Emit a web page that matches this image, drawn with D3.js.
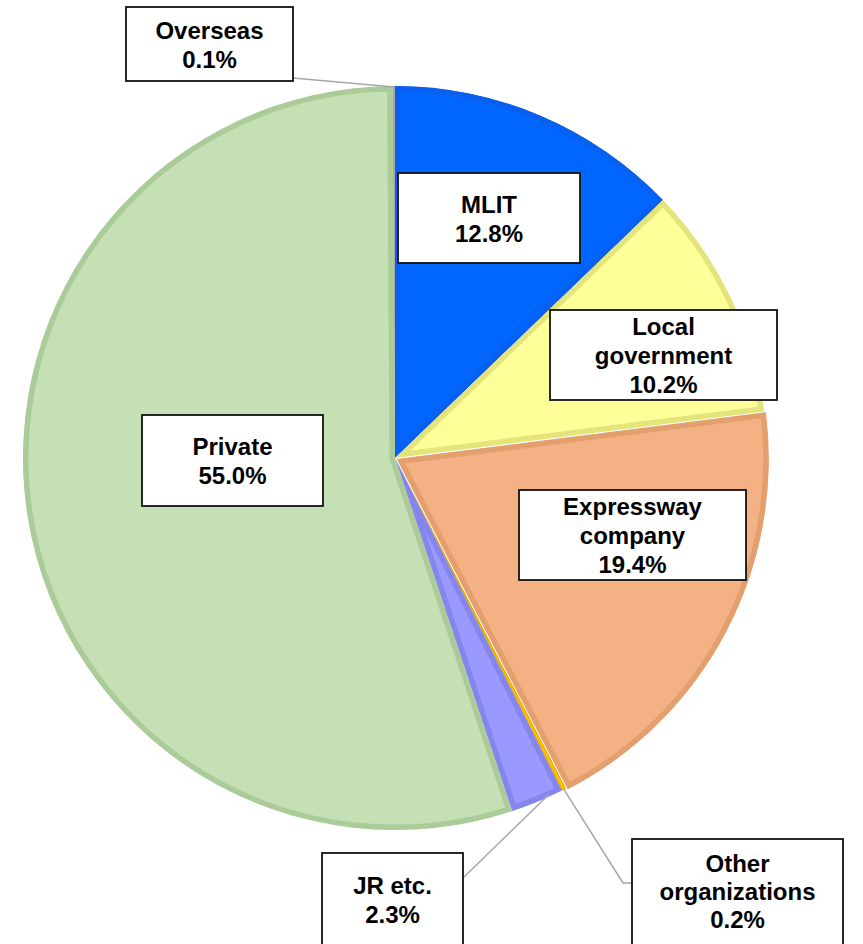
<!DOCTYPE html>
<html>
<head>
<meta charset="utf-8">
<script src="https://cdn.jsdelivr.net/npm/d3@7/dist/d3.min.js"></script>
<style>
  html, body { margin: 0; padding: 0; background: #fff; }
  svg { display: block; }
</style>
</head>
<body>
<svg id="chart" width="863" height="944"></svg>
<script>
// ---- data ----
const categories = ["MLIT", "Local government", "Expressway company", "Other organizations", "JR etc.", "Private", "Overseas"];
const shares = [12.8, 10.2, 19.4, 0.2, 2.3, 55.0, 0.1];
const labelLines = [
  ["MLIT", "12.8%"],
  ["Local", "government", "10.2%"],
  ["Expressway", "company", "19.4%"],
  ["Other", "organizations", "0.2%"],
  ["JR etc.", "2.3%"],
  ["Private", "55.0%"],
  ["Overseas", "0.1%"]
];
const fillColors = ["#0066FF", "#FFFF99", "#F4B183", "#FFC000", "#9999FF", "#C5E0B4", "#BFBFBF"];
const borderColors = ["#0A60EE", "#E4E47C", "#E39F6E", "#E8AA00", "#8585EE", "#ABCB98", "#A5A5A5"];
const explode = [0, 0, 2, 0, 0, 0, 0];

// label boxes (x, y, w, h) and text line centres
const boxes = [
  [398, 173, 182, 90],
  [550, 310, 227, 90],
  [519, 490, 227, 90],
  [632, 839, 211, 110],
  [322, 853, 141, 100],
  [142, 415, 181, 91],
  [126, 7, 167, 74]
];
const lineCenters = [
  [204.5, 233.5],
  [326, 355, 384],
  [506, 535, 564],
  [863, 891, 919],
  [885, 914],
  [446, 475],
  [30, 59]
];

const svg = d3.select("#chart");
const cx = 395, cy = 458, R = 372;

const pie = d3.pie().sort(null).value(d => d)(shares);
const arc = d3.arc().innerRadius(0).outerRadius(R);

const defs = svg.append("defs");
const g = svg.append("g").attr("transform", `translate(${cx},${cy})`);

pie.forEach((p, i) => {
  const mid = (p.startAngle + p.endAngle) / 2;
  const dx = Math.sin(mid) * explode[i], dy = -Math.cos(mid) * explode[i];
  const d = arc(p);
  defs.append("clipPath").attr("id", "clip" + i)
    .append("path").attr("d", d);
  const sg = g.append("g").attr("transform", `translate(${dx},${dy})`);
  sg.append("path")
    .attr("d", d)
    .attr("fill", fillColors[i])
    .attr("stroke", borderColors[i])
    .attr("stroke-width", p.value < 1 ? 2 : 11)
    .attr("stroke-linejoin", "round")
    .attr("clip-path", `url(#clip${i})`);
});

// leader lines
const leaderColor = "#A6A6A6";
function pt(i, frac, rad) {
  const p = pie[i];
  const a = p.startAngle + (p.endAngle - p.startAngle) * frac;
  return [cx + Math.sin(a) * rad, cy - Math.cos(a) * rad];
}
const leaders = [
  [[293, 78], pt(6, 0.5, R - 1)],
  [[463, 878], pt(4, 0.25, R - 2)],
  [[632, 883], [623, 883], pt(3, 0.5, R)]
];
leaders.forEach(l => {
  svg.append("path")
    .attr("d", d3.line()(l))
    .attr("fill", "none")
    .attr("stroke", leaderColor)
    .attr("stroke-width", 1.5);
});

// label boxes
boxes.forEach((b, i) => {
  svg.append("rect")
    .attr("x", b[0]).attr("y", b[1])
    .attr("width", b[2]).attr("height", b[3])
    .attr("fill", "#fff")
    .attr("stroke", "#111")
    .attr("stroke-width", 1.8);
  const t = svg.append("text")
    .attr("font-family", "Liberation Sans, Arial, sans-serif")
    .attr("font-weight", "bold")
    .attr("font-size", 24)
    .attr("fill", "#000")
    .attr("text-anchor", "middle");
  labelLines[i].forEach((s, j) => {
    t.append("tspan")
      .attr("x", b[0] + b[2] / 2)
      .attr("y", lineCenters[i][j])
      .attr("dy", "0.36em")
      .text(s);
  });
});
</script>
</body>
</html>
